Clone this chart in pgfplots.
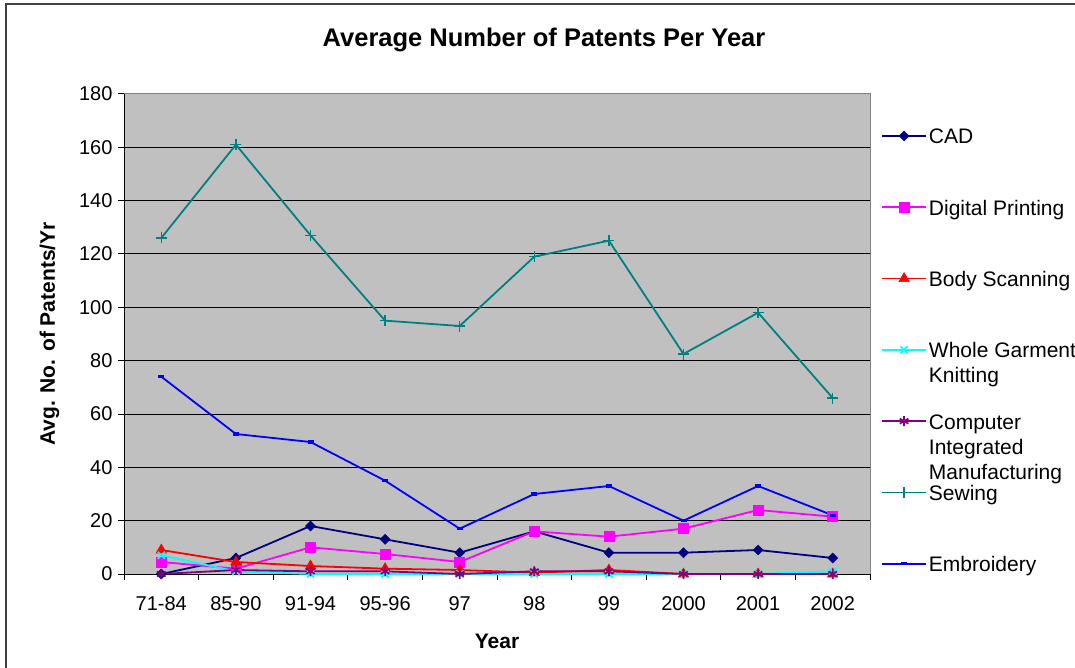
\documentclass[border=0pt]{standalone}
\usepackage{pgfplots}
\pgfplotsset{compat=1.18}
\usepackage{fontspec}
\setmainfont{Liberation Sans}
\definecolor{cad}{RGB}{0,0,128}
\definecolor{dp}{RGB}{255,0,255}
\definecolor{bs}{RGB}{255,0,0}
\definecolor{wgk}{RGB}{0,255,255}
\definecolor{cim}{RGB}{128,0,128}
\definecolor{sew}{RGB}{0,128,128}
\definecolor{emb}{RGB}{0,0,255}
\definecolor{plotbg}{RGB}{192,192,192}
\newcommand{\lt}[1]{\strut\smash{\begin{tabular}[t]{@{}l@{}}#1\end{tabular}}}
\begin{document}
\begin{tikzpicture}
\path[use as bounding box] (0,0) rectangle (1075pt,667pt);
\draw[line width=2pt, black!75] (6pt,-5pt) -- (6pt,663pt) -- (1085pt,663pt);
\node[font=\fontsize{25.5}{30}\selectfont\bfseries] at (544pt,627pt) {Average Number of Patents Per Year};
\begin{axis}[
  at={(124pt,93pt)}, anchor=south west,
  scale only axis, width=746pt, height=480pt,
  xmin=-0.5, xmax=9.5, ymin=0, ymax=180,
  ytick={0,20,...,180},
  xtick={0,...,9},
  xticklabels={71-84,85-90,91-94,95-96,97,98,99,2000,2001,2002},
  minor xtick={-0.5,0.5,...,9.5},
  x tick style={draw=none},
  minor x tick style={draw=black, line width=1pt},
  y tick style={black, line width=1pt},
  tick align=outside,
  major tick length=6pt, minor tick length=6pt,
  axis x line*=bottom, axis y line*=left,
  axis line style={black, line width=1pt, -},
  axis background/.style={fill=plotbg},
  ymajorgrids, major grid style={black, line width=1pt},
  /pgf/number format/assume math mode=true,
  tick label style={font=\fontsize{20}{24}\selectfont},
  xticklabel style={yshift=-13pt},
  yticklabel style={xshift=-2pt},
  xlabel={Year}, ylabel={Avg. No. of Patents/Yr},
  label style={font=\fontsize{21}{25}\selectfont\bfseries},
  xlabel style={at={(axis description cs:0.5,-0.14)}, anchor=center},
  ylabel style={at={(axis description cs:-0.10,0.5)}, anchor=center, rotate=0},
  legend cell align=left,
  legend style={draw=none, fill=none, at={(1.0147,0.937)}, anchor=north west,
    font=\fontsize{21}{25}\selectfont, row sep=48.3pt, inner sep=0pt},
  legend image code/.code={\draw[mark repeat=2, mark phase=2, #1] plot coordinates {(0pt,0pt) (22pt,0pt) (44pt,0pt)};},
  every axis plot/.append style={line width=1.8pt},
  after end axis/.code={\draw[black!50, line width=1pt] (rel axis cs:0,1) -- (rel axis cs:1,1) -- (rel axis cs:1,0);},
]
\addplot[cad, mark=diamond*, mark size=5pt, mark options={solid, fill=cad, line width=0.5pt, xscale=1.33}] coordinates {
(0,0) (1,6) (2,18) (3,13) (4,8) (5,16) (6,8) (7,8) (8,9) (9,6)};
\addlegendentry{\lt{CAD}}
\addplot[dp, mark=square*, mark size=5pt, mark options={solid, fill=dp, line width=0.5pt}] coordinates {
(0,4.5) (1,2) (2,10) (3,7.5) (4,4.5) (5,16) (6,14) (7,17) (8,24) (9,21.5)};
\addlegendentry{\lt{Digital Printing}}
\addplot[bs, mark=triangle*, mark size=6pt, mark options={solid, fill=bs, line width=0.5pt}] coordinates {
(0,9) (1,4.5) (2,3) (3,2) (4,1.5) (5,0.5) (6,1.5) (7,0) (8,0) (9,0)};
\addlegendentry{\lt{Body Scanning}}
\addplot[wgk, mark=x, mark size=5pt, mark options={solid, line width=1.7pt}] coordinates {
(0,7) (1,1) (2,0) (3,0) (4,0) (5,0) (6,0) (7,0) (8,0) (9,1)};
\addlegendentry{\lt{Whole Garment\\Knitting}}
\addplot[cim, mark=asterisk, mark size=5pt, mark options={solid, line width=1.7pt}] coordinates {
(0,0) (1,1.5) (2,1) (3,1) (4,0) (5,1) (6,1) (7,0) (8,0) (9,0)};
\addlegendentry{\lt{Computer\\Integrated\\Manufacturing}}
\addplot[sew, mark=+, mark size=5.5pt, mark options={solid, line width=1.4pt}] coordinates {
(0,126) (1,161) (2,127) (3,95) (4,93) (5,119) (6,125) (7,82.5) (8,98) (9,66)};
\addlegendentry{\lt{Sewing}}
\addplot[emb, mark=-, mark size=3pt, mark options={solid, line width=3.5pt}] coordinates {
(0,74) (1,52.5) (2,49.5) (3,35) (4,17) (5,30) (6,33) (7,20) (8,33) (9,22)};
\addlegendentry{\lt{Embroidery}}
\end{axis}
\end{tikzpicture}
\end{document}
